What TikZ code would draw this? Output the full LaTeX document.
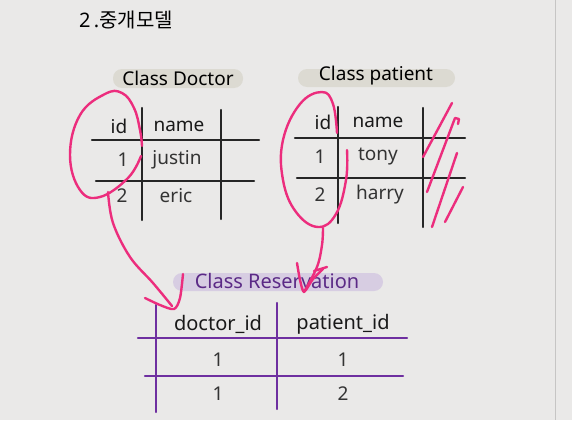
\documentclass[tikz,border=0pt]{standalone}
\usepackage{fontspec}
\setmainfont{Noto Sans}
\newfontfamily\kfont{Noto Sans CJK KR}
\definecolor{bg}{HTML}{EAE9E8}
\definecolor{pinkink}{HTML}{EC2D7D}
\definecolor{pillgray}{HTML}{DCDAD2}
\definecolor{pillpurple}{HTML}{D7CDE2}
\definecolor{purpleink}{HTML}{5B2A86}
\definecolor{purpleline}{HTML}{6E2FA0}
\definecolor{divider}{HTML}{C6C5C4}
\begin{document}
\begin{tikzpicture}[x=1pt,y=-1pt,
  ink/.style={draw=black!85,line width=2.2pt,line cap=round},
  pline/.style={draw=purpleline,line width=2.2pt,line cap=round},
  pen/.style={draw=pinkink,line width=2.4pt,line cap=round,line join=round},
  cell/.style={inner sep=0pt,font=\fontsize{19}{19}\selectfont,text=black!80},
  head/.style={inner sep=0pt,font=\fontsize{19}{19}\selectfont,text=black!90},
  pilltext/.style={inner sep=0pt,font=\fontsize{19}{19}\selectfont}]
\fill[bg] (0,0) rectangle (572,420);
\useasboundingbox (0,0) rectangle (572,420);
\draw[divider,line width=1pt] (555.5,0) -- (555.5,420);
% title
\node[inner sep=0pt,anchor=west,font=\fontsize{20}{20}\selectfont] (title) at (79,20) {2\,.{\kfont 중개모델}};
% ---------- Doctor ----------
\fill[pillgray,rounded corners=9pt] (113,69) rectangle (243,88);
\node[pilltext] (dtitle) at (178,78) {Class Doctor};
\draw[ink] (92,140) -- (259,140);
\draw[ink] (96,181) -- (254,181);
\draw[ink] (142,108) -- (142,220);
\draw[ink] (221,110) -- (221,219);
\node[head] (did) at (119,126) {id};
\node[head] (dname) at (179,126) {name};
\node[cell] (d1) at (123,160) {1};
\node[cell] (dj) at (177,160) {justin};
\node[cell] (d2) at (122,196) {2};
\node[cell] (de) at (176,196) {eric};
% ---------- Patient ----------
\fill[pillgray,rounded corners=9pt] (298,69) rectangle (455,87);
\node[pilltext] (ptitle) at (376,76) {Class patient};
\draw[ink] (295,138) -- (465,138);
\draw[ink] (297,178) -- (465,178);
\draw[ink] (338,107) -- (338,223);
\draw[ink] (423,108) -- (423,227);
\node[head] (pid) at (323,122) {id};
\node[head] (pname) at (378,122) {name};
\node[cell] (p1) at (320,157) {1};
\node[cell] (pt) at (378,157) {tony};
\node[cell] (p2) at (320,195) {2};
\node[cell] (ph) at (380,195) {harry};
% ---------- Reservation ----------
\fill[pillpurple,rounded corners=9pt] (173,273) rectangle (383,291);
\node[pilltext,text=purpleink,font=\fontsize{20}{20}\selectfont] (rtitle) at (277,281) {Class Reservation};
\draw[pline] (138,338) -- (407,338);
\draw[pline] (145,376) -- (403,376);
\draw[pline] (156,305) -- (156,412);
\draw[pline] (277,303) -- (277,409);
\node[cell,text=black!90,font=\fontsize{20}{20}\selectfont] (rdh) at (218,324) {doctor\_id};
\node[cell,text=black!90,font=\fontsize{20}{20}\selectfont] (rph) at (343,324) {patient\_id};
\node[cell] (r11) at (218,360) {1};
\node[cell] (r12) at (343,360) {1};
\node[cell] (r21) at (218,394) {1};
\node[cell] (r22) at (343,394) {2};
% ---------- pink ink ----------
% doctor loop and tail
\draw[pen] plot[smooth,tension=0.7] coordinates {(141,156) (128,178) (100,197) (80,190) (70,155) (80,115) (105,94) (122,93) (134,108) (140,130) (142,146)};
\draw[pen] plot[smooth,tension=0.6] coordinates {(108,192) (113,223) (130,257) (153,283) (172,306)};
\draw[pen] plot[smooth,tension=0.5] coordinates {(145,298) (160,305) (174,309) (180,298) (183,274)};
% patient loop and tail
\draw[pen] plot[smooth,tension=0.7] coordinates {(337,133) (333,104) (322,92) (300,104) (283,140) (283,180) (296,212) (318,227) (336,214) (346,180) (347,150)};
\draw[pen] plot[smooth,tension=0.6] coordinates {(323,228) (322,245) (317,267) (304,292)};
\draw[pen] plot[smooth,tension=0.4] coordinates {(297,263) (300,280) (304,292) (313,279) (323,269)};
\draw[pen] (314,271) -- (327,267);
% hatch
\draw[pen] (423,157) -- (452,103);
\draw[pen] (427,192) -- (455,118) -- (459,119) -- (458,124);
\draw[pen] (432,227) -- (457,153);
\draw[pen] (445,222) -- (463,187);
\end{tikzpicture}
\end{document}
